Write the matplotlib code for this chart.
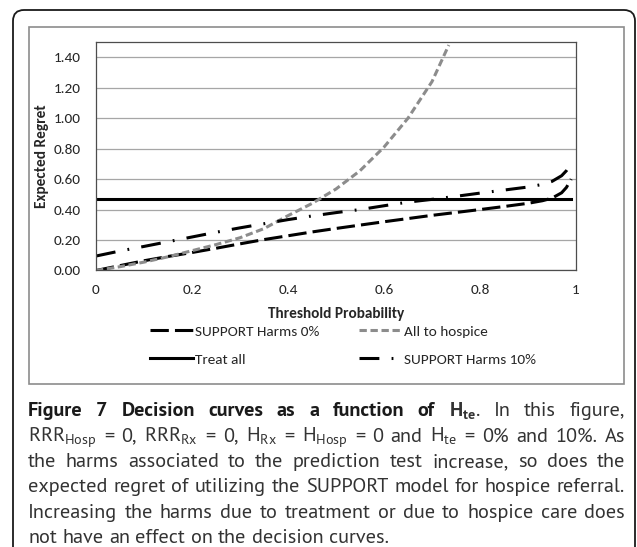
import matplotlib
matplotlib.use("Agg")
import matplotlib.pyplot as plt
from matplotlib.patches import FancyBboxPatch, Rectangle
from matplotlib.transforms import IdentityTransform

# values
threshold = [0, 0.05, 0.1, 0.15, 0.2, 0.25, 0.3, 0.35, 0.4, 0.45, 0.5, 0.55,
             0.6, 0.65, 0.7, 0.75, 0.8, 0.85, 0.9, 0.93, 0.95, 0.97, 0.98, 0.99]
harms_0 = [0.0, 0.032, 0.064, 0.092, 0.118, 0.146, 0.175, 0.203, 0.228, 0.253,
           0.276, 0.298, 0.32, 0.341, 0.362, 0.381, 0.40, 0.42, 0.441, 0.458,
           0.475, 0.51, 0.545, 0.60]
harms_10 = [0.095, 0.128, 0.158, 0.189, 0.22, 0.251, 0.28, 0.307, 0.334, 0.358,
            0.38, 0.40, 0.425, 0.449, 0.467, 0.487, 0.508, 0.528, 0.548, 0.565,
            0.585, 0.622, 0.655, 0.70]
treat_all = 0.47
hospice_x = [0, 0.05, 0.1, 0.15, 0.2, 0.25, 0.3, 0.35, 0.4, 0.45, 0.5, 0.55,
             0.6, 0.65, 0.7, 0.735]
hospice_y = [0, 0.025, 0.055, 0.09, 0.13, 0.17, 0.215, 0.275, 0.36, 0.44,
             0.535, 0.655, 0.81, 1.0, 1.24, 1.48]

x_ticks = [0, 0.2, 0.4, 0.6, 0.8, 1]
x_labels = ["0", "0.2", "0.4", "0.6", "0.8", "1"]
y_ticks = [0, 0.2, 0.4, 0.6, 0.8, 1.0, 1.2, 1.4]

caption = [
    [("Figure", True), ("7", True), ("Decision", True), ("curves", True),
     ("as", True), ("a", True), ("function", True), ("of", True),
     (r"$\mathbf{H}_{\mathbf{te}}$.", False), ("In", False), ("this", False),
     ("figure,", False)],
    [(r"RRR$_{\mathrm{Hosp}}$", False), ("=", False), ("0,", False),
     (r"RRR$_{\mathrm{Rx}}$", False), ("=", False), ("0,", False),
     (r"H$_{\mathrm{Rx}}$", False), ("=", False), (r"H$_{\mathrm{Hosp}}$", False),
     ("=", False), ("0", False), ("and", False), (r"H$_{\mathrm{te}}$", False),
     ("=", False), ("0%", False), ("and", False), ("10%.", False), ("As", False)],
    [(w, False) for w in "the harms associated to the prediction test increase, so does the".split()],
    [(w, False) for w in "expected regret of utilizing the SUPPORT model for hospice referral.".split()],
    [(w, False) for w in "Increasing the harms due to treatment or due to hospice care does".split()],
    [(w, False) for w in "not have an effect on the decision curves.".split()],
]

W, H = 637, 547
CHART_FONT = ["Carlito", "Lato", "DejaVu Sans"]
CAP_FONT = ["PT Sans", "Lato", "DejaVu Sans"]
plt.rcParams["font.family"] = CHART_FONT
plt.rcParams["mathtext.fontset"] = "custom"
plt.rcParams["mathtext.rm"] = "PT Sans"
plt.rcParams["mathtext.bf"] = "PT Sans:bold"
plt.rcParams["mathtext.it"] = "PT Sans:italic"

fig = plt.figure(figsize=(W / 100, H / 100), dpi=100)
ident = IdentityTransform()

# outer rounded frame (bottom runs off the page) and inner chart frame
fig.patches.append(FancyBboxPatch((13, -30), 622, H - 10 + 30,
                                  boxstyle="round,pad=0,rounding_size=11",
                                  fill=False, ec="#1a1a1a", lw=1.3,
                                  transform=ident, figure=fig))
fig.patches.append(Rectangle((29, H - 384), 595, 357, fill=False,
                             ec="#8c8c8c", lw=1.2, transform=ident, figure=fig))

ax = fig.add_axes([96 / W, 1 - 270.5 / H, 480 / W, 228.5 / H])
lw = 2.2
l0, = ax.plot(threshold, harms_0, color="black", lw=lw, dashes=(6, 2))
lt, = ax.plot(threshold, [treat_all] * len(threshold), color="black", lw=lw)
lh, = ax.plot(hospice_x, hospice_y, color="#8c8c8c", lw=lw, dashes=(2.4, 1.2))
l10, = ax.plot(threshold, harms_10, color="black", lw=lw, dashes=(6.5, 4, 0.6, 4))

ax.set_xlim(0, 1)
ax.set_ylim(0, 1.5)
ax.set_xticks(x_ticks)
ax.set_xticklabels(x_labels)
ax.set_yticks(y_ticks)
ax.set_yticklabels([f"{v:.2f}" for v in y_ticks])
ax.tick_params(length=0, labelsize=11, colors="#262626")
ax.tick_params(axis="y", pad=11)
ax.tick_params(axis="x", pad=10)
ax.yaxis.grid(True, color="#a6a6a6", lw=0.9)
ax.set_axisbelow(True)
for s in ax.spines.values():
    s.set_color("#4d4d4d")
    s.set_linewidth(0.9)

fig.text(42, H - 156, "Expected Regret", rotation=90, fontweight="bold",
         fontsize=11, ha="center", va="center", transform=ident, color="#262626")
fig.text(336, H - 314, "Threshold Probability", fontweight="bold",
         fontsize=11, ha="center", va="center", transform=ident, color="#262626")

fig.legend([l0, lt, lh, l10],
           ["SUPPORT Harms 0%", "Treat all", "All to hospice", "SUPPORT Harms 10%"],
           ncol=2, loc="upper left", bbox_to_anchor=(150 / W, 1 - 325 / H),
           frameon=False, borderpad=0, borderaxespad=0, handlelength=2.8,
           handletextpad=0.15, columnspacing=2.6, labelspacing=1.0,
           fontsize=11, labelcolor="#262626")

# caption, justified between x0 and x1
renderer = fig.canvas.get_renderer()
x0, x1 = 28, 625
baselines = [416, 441.5, 467, 492.5, 518, 543]


def make_words(line, size):
    out = []
    for word, bold in line:
        t = fig.text(0, 0, word, fontsize=size, family=CAP_FONT,
                     fontweight="bold" if bold else "normal",
                     color="#1a1a1a" if bold else "#333333",
                     ha="left", va="baseline", transform=ident)
        out.append(t)
    return out


def widths(texts):
    return [t.get_window_extent(renderer).width for t in texts]


probe = make_words(caption[3], 10)
w_probe = sum(widths(probe))
sp = fig.text(0, 0, "a a", fontsize=10, family=CAP_FONT, transform=ident)
sa = fig.text(0, 0, "aa", fontsize=10, family=CAP_FONT, transform=ident)
space10 = sp.get_window_extent(renderer).width - sa.get_window_extent(renderer).width
for t in probe + [sp, sa]:
    t.remove()
natural = w_probe + space10 * (len(caption[3]) - 1)
size = 10 * 592 / natural
space = space10 * size / 10

for i, line in enumerate(caption):
    texts = make_words(line, size)
    ws = widths(texts)
    last = i == len(caption) - 1
    gap = space if last else (x1 - x0 - sum(ws)) / (len(ws) - 1)
    x = x0
    for t, w in zip(texts, ws):
        t.set_position((x, H - baselines[i]))
        x += w + gap

fig.savefig("out.png", dpi=100)
